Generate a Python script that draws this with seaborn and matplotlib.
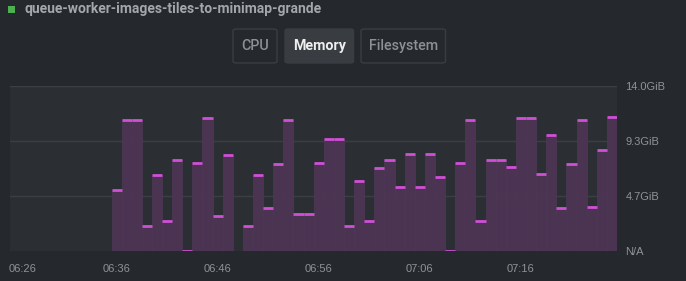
import numpy as np
import pandas as pd
import matplotlib
matplotlib.use("Agg")
import matplotlib.pyplot as plt
import matplotlib.transforms as mtransforms
from matplotlib.patches import FancyBboxPatch, Rectangle
import seaborn as sns

# ---- data (minutes after 06:26, memory in GiB; NaN = no data) ----
minutes = list(range(10, 60))
memory_gib = [5.15, 11.09, 11.09, 2.10, 6.42, 2.52, 7.69, 0.0, 7.48, 11.27,
              3.00, 8.16, np.nan, 2.10, 6.45, 3.65, 7.37, 11.12, 3.11, 3.11,
              7.44, 9.52, 9.52, 2.12, 5.91, 2.55, 7.03, 7.72, 5.47, 8.23,
              5.47, 8.23, 6.29, 0.0, 7.48, 11.14, 2.55, 7.72, 7.72, 7.10,
              11.31, 11.31, 6.50, 9.81, 3.68, 7.41, 11.14, 3.75, 8.53, 11.33]
x_tick_pos = [0, 10, 20, 30, 40, 50]
x_tick_labels = ["06:26", "06:36", "06:46", "06:56", "07:06", "07:16"]
y_tick_pos = [0, 14 / 3, 28 / 3, 14.0]
y_tick_labels = ["N/A", "4.7GiB", "9.3GiB", "14.0GiB"]
title = "queue-worker-images-tiles-to-minimap-grande"
tabs = ["CPU", "Memory", "Filesystem"]

df = pd.DataFrame({"minute": minutes, "mem": memory_gib})

W, H = 686, 281
BG = "#25282c"
PLOT_BG = "#2b2f33"
GRID = "#3b3f43"
FILL = "#4a3452"
CAP = "#cf4fd6"
TXT = "#8f9297"

sns.set_theme(style="dark")
plt.rcParams["font.family"] = ["Roboto", "DejaVu Sans"]

fig = plt.figure(figsize=(W / 100, H / 100), dpi=100, facecolor=BG)
ax = fig.add_axes([10 / W, (H - 251) / H, 607 / W, 165 / H])
ax.set_facecolor(PLOT_BG)

sns.barplot(data=df, x="minute", y="mem", native_scale=True, width=1.0,
            color=FILL, saturation=1, errorbar=None, edgecolor="#4f3857",
            linewidth=0.5, ax=ax, zorder=2)
ax.hlines(df["mem"], df["minute"] - 0.5, df["minute"] + 0.5, colors=CAP,
          linewidth=2.0, zorder=3)

ax.set_xlim(-0.54, 59.5)
ax.set_ylim(0, 14)
ax.set_xlabel("")
ax.set_ylabel("")
for s in ax.spines.values():
    s.set_visible(False)

ax.set_yticks(y_tick_pos)
ax.set_yticklabels(y_tick_labels)
ax.yaxis.tick_right()
ax.tick_params(axis="y", length=0, pad=6, labelsize=8, labelcolor=TXT)
for lab in ax.get_yticklabels():
    lab.set_family(["Liberation Sans", "DejaVu Sans"])
ax.grid(False)
for yv in y_tick_pos[1:]:
    ax.axhline(yv, color=GRID, linewidth=1.0, zorder=1)

ax.set_xticks(x_tick_pos)
ax.set_xticklabels(x_tick_labels)
ax.tick_params(axis="x", length=0, pad=9, labelsize=8, labelcolor=TXT)
for i, lab in enumerate(ax.get_xticklabels()):
    lab.set_family(["Liberation Sans", "DejaVu Sans"])
    if i == 0:
        lab.set_transform(lab.get_transform() +
                          mtransforms.ScaledTranslation(7 / 100, 0, fig.dpi_scale_trans))


def fx(px):
    return px / W


def fy(py):
    return 1 - py / H


# title
fig.patches.append(Rectangle((fx(8), fy(13)), 7 / W, 7 / H, transform=fig.transFigure,
                             facecolor="#4caf50", edgecolor="none"))
fig.text(fx(24.5), fy(9.5), title, color="#a3a6aa", fontsize=10.0, fontweight="bold",
         ha="left", va="center")

# tabs
boxes = [(233, 277), (285, 353.5), (361, 445.5)]
for (x0, x1), name in zip(boxes, tabs):
    active = name == "Memory"
    fig.patches.append(FancyBboxPatch((fx(x0), fy(63)), (x1 - x0) / W, 34 / H,
                                      boxstyle="round,pad=0,rounding_size=0.006",
                                      transform=fig.transFigure,
                                      facecolor="#393c41" if active else BG,
                                      edgecolor="#3a3d41", linewidth=1.0))
    fig.text(fx((x0 + x1) / 2), fy(46), name,
             color="#eeeeee" if active else "#8d9095",
             fontsize=10.3, fontweight="bold" if active else "medium",
             ha="center", va="center")

fig.savefig("out.png", dpi=100, facecolor=BG)
